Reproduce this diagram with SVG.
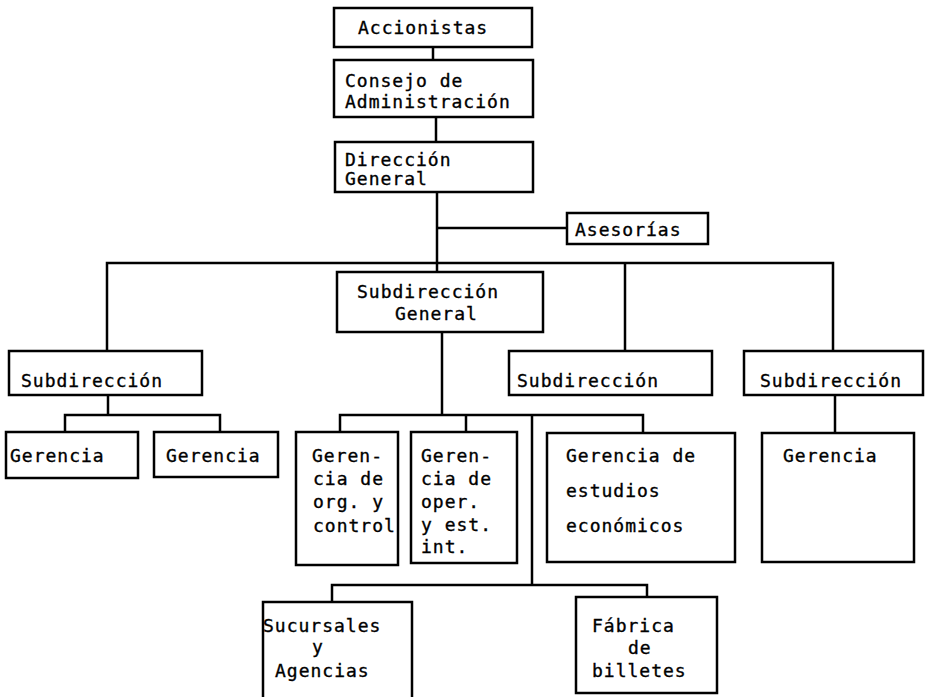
<svg xmlns="http://www.w3.org/2000/svg" width="925" height="697" viewBox="0 0 925 697">
<style>
.box{fill:#fff;stroke:#000;stroke-width:2.5}
.ln{fill:none;stroke:#000;stroke-width:2.5}
text{font-family:"DejaVu Sans Mono","Liberation Mono",monospace;font-size:18px;letter-spacing:1px;fill:#000;stroke:#000;stroke-width:0.35}
</style>
<rect width="925" height="697" fill="#fff"/>
<g id="connectors">
<path class="ln" d="M433 47V60"/>
<path class="ln" d="M436 117V142"/>
<path class="ln" d="M437 192V272"/>
<path class="ln" d="M437 228H567"/>
<path class="ln" d="M107 351V263H833V351"/>
<path class="ln" d="M625 263V351"/>
<path class="ln" d="M108 395V415"/>
<path class="ln" d="M65 432V415H220V432"/>
<path class="ln" d="M442 332V415"/>
<path class="ln" d="M340 432V415H643V432"/>
<path class="ln" d="M466 415V432"/>
<path class="ln" d="M532 415V585"/>
<path class="ln" d="M332 602V585H647V597"/>
<path class="ln" d="M835 395V433"/>
</g>
<g id="accionistas"><rect class="box" x="334" y="8" width="198" height="39"/><text x="358" y="34">Accionistas</text></g>
<g id="consejo"><rect class="box" x="334" y="60" width="199" height="57"/><text x="345" y="87">Consejo de</text><text x="345" y="108">Administración</text></g>
<g id="direccion"><rect class="box" x="335" y="142" width="198" height="50"/><text x="345" y="166">Dirección</text><text x="345" y="185">General</text></g>
<g id="asesorias"><rect class="box" x="567" y="213" width="141" height="31"/><text x="575" y="236">Asesorías</text></g>
<g id="subdir-general"><rect class="box" x="337" y="272" width="206" height="60"/><text x="357" y="298">Subdirección</text><text x="395" y="320">General</text></g>
<g id="subdir-1"><rect class="box" x="9" y="351" width="193" height="44"/><text x="21" y="387">Subdirección</text></g>
<g id="subdir-2"><rect class="box" x="509" y="351" width="203" height="44"/><text x="517" y="387">Subdirección</text></g>
<g id="subdir-3"><rect class="box" x="744" y="351" width="179" height="44"/><text x="760" y="387">Subdirección</text></g>
<g id="gerencia-1"><rect class="box" x="6" y="432" width="132" height="46"/><text x="10" y="462">Gerencia</text></g>
<g id="gerencia-2"><rect class="box" x="154" y="432" width="124" height="45"/><text x="166" y="462">Gerencia</text></g>
<g id="gerencia-org"><rect class="box" x="296" y="432" width="102" height="133"/><text x="312" y="462">Geren-</text><text x="313" y="485">cia de</text><text x="313" y="508">org. y</text><text x="313" y="532">control</text></g>
<g id="gerencia-oper"><rect class="box" x="411" y="432" width="106" height="131"/><text x="421" y="462">Geren-</text><text x="421" y="485">cia de</text><text x="421" y="508">oper.</text><text x="421" y="531">y est.</text><text x="421" y="553">int.</text></g>
<g id="gerencia-estudios"><rect class="box" x="547" y="433" width="188" height="129"/><text x="566" y="462">Gerencia de</text><text x="566" y="497">estudios</text><text x="566" y="532">económicos</text></g>
<g id="gerencia-3"><rect class="box" x="762" y="433" width="152" height="129"/><text x="783" y="462">Gerencia</text></g>
<g id="sucursales"><rect class="box" x="263" y="602" width="149" height="100"/><text x="263" y="632">Sucursales</text><text x="312" y="653">y</text><text x="275" y="677">Agencias</text></g>
<g id="fabrica"><rect class="box" x="576" y="597" width="141" height="96"/><text x="592" y="632">Fábrica</text><text x="628" y="654">de</text><text x="592" y="677">billetes</text></g>
</svg>
